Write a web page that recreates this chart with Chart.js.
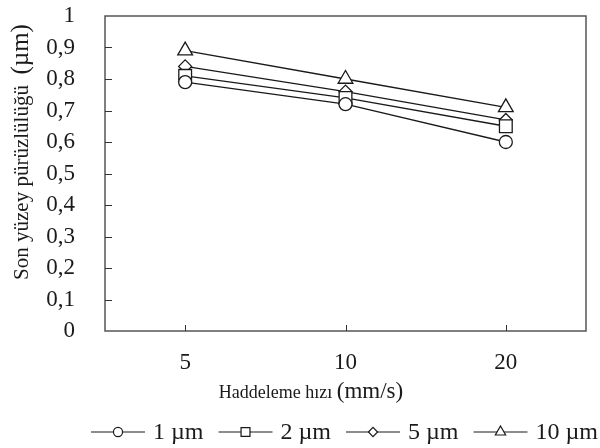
<!DOCTYPE html>
<html>
<head>
<meta charset="utf-8">
<script src="https://cdn.jsdelivr.net/npm/chart.js@4.4.0/dist/chart.umd.min.js"></script>
<style>
  html, body { margin: 0; padding: 0; background: #fff; }
  #wrap { width: 600px; height: 448px; }
</style>
</head>
<body>
<div id="wrap"><canvas id="roughnessChart"></canvas></div>
<script>
// Data
const speeds = ['5', '10', '20'];
const seriesLabels = ['1 µm', '2 µm', '5 µm', '10 µm'];
const rough1 = [0.79, 0.72, 0.60];
const rough2 = [0.81, 0.74, 0.65];
const rough5 = [0.84, 0.76, 0.67];
const rough10 = [0.89, 0.80, 0.71];
const yTicks = [0, 0.1, 0.2, 0.3, 0.4, 0.5, 0.6, 0.7, 0.8, 0.9, 1];

const serif = '"Liberation Serif", "Times New Roman", serif';
const ink = '#1a1a1a';

// marker styles per series
const markers = [
    { style: 'circle', radius: 6.5 },
    { style: 'rect', radius: 9 },
    { style: 'rectRot', radius: 6.5 },
    { style: 'triangle', radius: 8.5 }
];

function makeDataset(label, values, m) {
    return {
        label: label,
        data: values,
        borderColor: ink,
        borderWidth: 1.3,
        backgroundColor: '#fff',
        pointStyle: m.style,
        pointRadius: m.radius,
        pointHoverRadius: m.radius,
        pointBorderWidth: 1.3,
        pointBackgroundColor: '#fff',
        pointBorderColor: ink,
        tension: 0
    };
}

function fmt(v) {
    if (v === 0) return '0';
    if (v === 1) return '1';
    return v.toFixed(1).replace('.', ',');
}

// Frame, inward ticks, axis titles and legend
const decorPlugin = {
    id: 'decor',
    afterDraw(chart) {
        const ctx = chart.ctx;
        const area = chart.chartArea;
        const xs = chart.scales.x;
        const ys = chart.scales.y;
        ctx.save();

        // frame
        ctx.strokeStyle = '#555';
        ctx.lineWidth = 1.5;
        ctx.strokeRect(area.left, area.top, area.right - area.left, area.bottom - area.top);

        // inward ticks
        ctx.strokeStyle = '#333';
        ctx.lineWidth = 1;
        ctx.beginPath();
        yTicks.forEach(v => {
            if (v === 0 || v === 1) return;
            const y = Math.round(ys.getPixelForValue(v)) + 0.5;
            ctx.moveTo(area.left, y);
            ctx.lineTo(area.left + 7, y);
        });
        speeds.forEach((s, i) => {
            const x = Math.round(xs.getPixelForValue(i)) + 0.5;
            ctx.moveTo(x, area.bottom);
            ctx.lineTo(x, area.bottom - 6);
        });
        ctx.stroke();

        ctx.fillStyle = ink;
        ctx.textBaseline = 'alphabetic';
        ctx.textAlign = 'left';

        // x title
        const xa = 'Haddeleme hızı ';
        const xb = '(mm/s)';
        ctx.font = '18px ' + serif;
        const wa = ctx.measureText(xa).width;
        ctx.font = '23px ' + serif;
        const wb = ctx.measureText(xb).width;
        let x0 = 311 - (wa + wb) / 2;
        ctx.font = '18px ' + serif;
        ctx.fillText(xa, x0, 398);
        ctx.font = '23px ' + serif;
        ctx.fillText(xb, x0 + wa, 398);

        // y title
        const ya = 'Son yüzey pürüzlülüğü  ';
        const yb = '(µm)';
        ctx.save();
        ctx.translate(28, 152);
        ctx.rotate(-Math.PI / 2);
        ctx.font = '21px ' + serif;
        const ha = ctx.measureText(ya).width;
        ctx.font = '25px ' + serif;
        const hb = ctx.measureText(yb).width;
        let y0 = -(ha + hb) / 2;
        ctx.font = '21px ' + serif;
        ctx.fillText(ya, y0, 0);
        ctx.font = '25px ' + serif;
        ctx.fillText(yb, y0 + ha, 0);
        ctx.restore();

        // legend: line + marker + label, laid out to end at the right edge
        const symW = 54, symGap = 8, itemGap = 15;
        ctx.font = '24px ' + serif;
        const widths = chart.data.datasets.map(ds => ctx.measureText(ds.label).width);
        let total = 0;
        widths.forEach(w => { total += symW + symGap + w; });
        total += itemGap * (widths.length - 1);
        let lx = 598 - total;
        const ly = 432;
        chart.data.datasets.forEach((ds, i) => {
            ctx.strokeStyle = ink;
            ctx.lineWidth = 1.2;
            ctx.beginPath();
            ctx.moveTo(lx, ly);
            ctx.lineTo(lx + symW, ly);
            ctx.stroke();
            ctx.fillStyle = '#fff';
            ctx.strokeStyle = ink;
            Chart.helpers.drawPoint(ctx, {
                pointStyle: ds.pointStyle,
                radius: ds.pointRadius * 0.7,
                rotation: 0,
                borderWidth: 1.1
            }, lx + symW / 2, ly);
            ctx.fillStyle = ink;
            ctx.fillText(ds.label, lx + symW + symGap, 439);
            lx += symW + symGap + widths[i] + itemGap;
        });

        ctx.restore();
    }
};

const chart = new Chart(document.getElementById('roughnessChart'), {
    type: 'line',
    data: {
        labels: speeds,
        datasets: [
            makeDataset(seriesLabels[0], rough1, markers[0]),
            makeDataset(seriesLabels[1], rough2, markers[1]),
            makeDataset(seriesLabels[2], rough5, markers[2]),
            makeDataset(seriesLabels[3], rough10, markers[3])
        ]
    },
    options: {
        responsive: true,
        maintainAspectRatio: false,
        animation: false,
        layout: { padding: { top: 16, right: 14, bottom: 0, left: 0 } },
        plugins: {
            legend: { display: false },
            tooltip: { enabled: false }
        },
        scales: {
            x: {
                offset: true,
                grid: { display: false },
                border: { display: false },
                ticks: {
                    color: ink,
                    font: { family: serif, size: 23 },
                    padding: 10,
                    maxRotation: 0
                },
                afterFit(scale) { scale.height = 117; }
            },
            y: {
                min: 0,
                max: 1,
                grid: { display: false },
                border: { display: false },
                afterBuildTicks(scale) {
                    scale.ticks = yTicks.map(v => ({ value: v }));
                },
                ticks: {
                    color: ink,
                    autoSkip: false,
                    font: { family: serif, size: 23 },
                    padding: 22,
                    callback: v => fmt(v)
                },
                afterFit(scale) {
                    scale.width = 105;
                    scale.paddingTop = 0;
                    scale.paddingBottom = 0;
                }
            }
        }
    },
    plugins: [decorPlugin]
});
</script>
</body>
</html>
